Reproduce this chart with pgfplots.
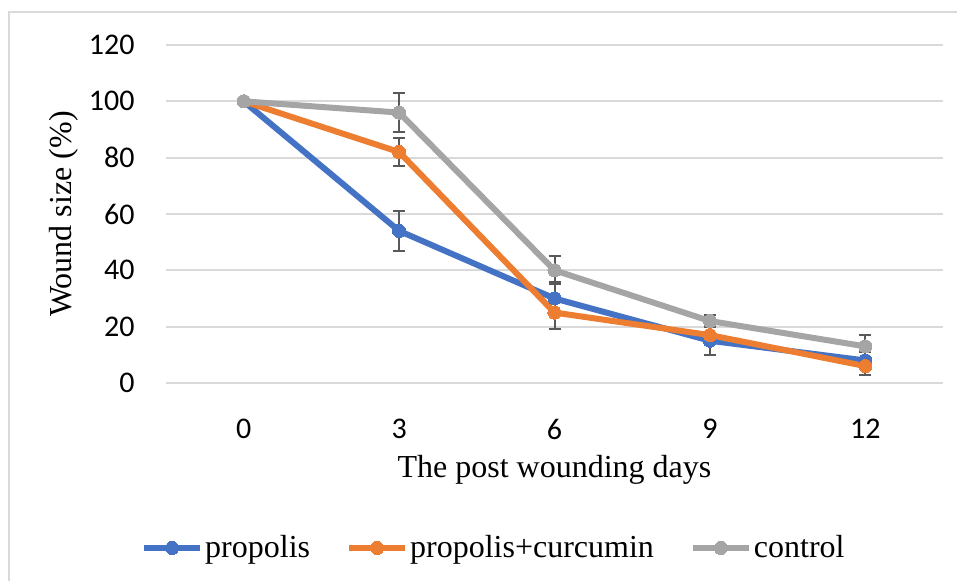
\documentclass[border=0pt]{standalone}
\usepackage{fontspec}
\setmainfont{Liberation Serif}
\newfontfamily\carlito{Carlito}
\usepackage{pgfplots}
\pgfplotsset{compat=1.18}
\definecolor{cblue}{HTML}{4472C4}
\definecolor{corange}{HTML}{ED7D31}
\definecolor{cgray}{HTML}{A5A5A5}
\definecolor{cgrid}{HTML}{D9D9D9}
\definecolor{cerr}{HTML}{595959}
\begin{document}
\begin{tikzpicture}[x=1pt,y=1pt]
\path[use as bounding box] (0,0) rectangle (478.5,290.5);
\draw[cgrid, line width=1pt] (4.5,0) -- (4.5,284.5) -- (478.5,284.5);
\begin{axis}[
  at={(83pt,99pt)}, anchor=south west,
  scale only axis, width=388.5pt, height=169pt,
  xmin=-1.5, xmax=13.5, ymin=0, ymax=120,
  xtick={0,3,6,9,12}, ytick={0,20,40,60,80,100,120},
  axis line style={draw=none}, tick style={draw=none},
  ymajorgrids, grid style={cgrid, line width=1pt},
  /pgf/number format/assume math mode=true,
  ticklabel style={font=\carlito\fontsize{15}{18}\selectfont},
  yticklabel style={inner sep=0pt, xshift=-15.5pt},
  xticklabel style={inner sep=0pt, yshift=-18pt},
  xlabel={The post wounding days},
  ylabel={Wound size (\%)},
  label style={font=\fontsize{16}{19}\selectfont},
  xlabel style={at={(axis description cs:0.5,-0.257)}, anchor=center},
  ylabel style={at={(axis description cs:-0.137,0.5)}, anchor=center, yshift=-2pt},
  legend columns=3,
  legend style={at={(0.422,-0.488)}, anchor=center, draw=none, fill=none,
    font=\fontsize{16}{19}\selectfont, nodes={inner sep=1pt},
    /tikz/every even column/.append style={column sep=17pt}},
  legend image code/.code={\draw[mark repeat=2,mark phase=2,#1] plot coordinates {(0pt,0pt) (14pt,0pt) (28pt,0pt)};},
  every axis plot/.append style={line width=3pt, line join=round, mark=*, mark size=3.3pt,
    error bars/y dir=both, error bars/y explicit,
    error bars/error bar style={cerr, line width=1pt},
    error bars/error mark options={rotate=90, mark size=3pt, line width=1pt, cerr}},
]
\addplot[cblue, mark options={fill=cblue, draw=cblue, line width=0pt}] table[x=x, y=y, y error=e] {
x y e
0 100 0
3 54 7
6 30 6
9 15 5
12 8 3
};
\addlegendentry{propolis}
\addplot[corange, mark options={fill=corange, draw=corange, line width=0pt}] table[x=x, y=y, y error=e] {
x y e
0 100 0
3 82 5
6 25 6
9 17 3
12 6 3
};
\addlegendentry{propolis+curcumin}
\addplot[cgray, mark options={fill=cgray, draw=cgray, line width=0pt}] table[x=x, y=y, y error=e] {
x y e
0 100 0
3 96 7
6 40 5
9 22 2
12 13 4
};
\addlegendentry{control}
\end{axis}
\end{tikzpicture}
\end{document}
